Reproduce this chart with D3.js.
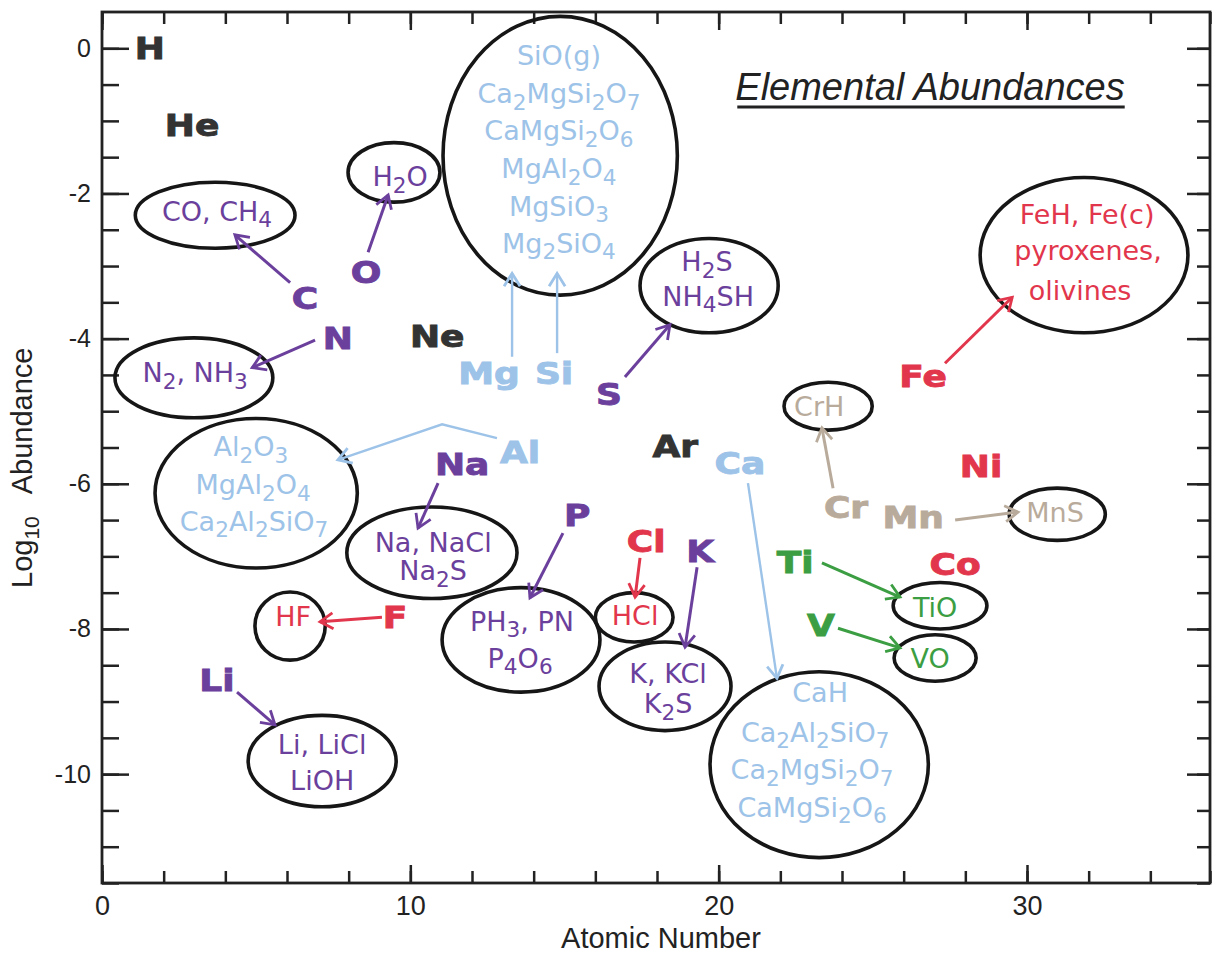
<!DOCTYPE html>
<html><head><meta charset="utf-8">
<script src="https://cdn.jsdelivr.net/npm/d3@7"></script>
<style>body{margin:0;background:#fff}</style>
</head><body><svg id="chart" width="1212" height="954"></svg>
<script>
// ---------------- DATA ----------------
const xDomain = [0, 36];
const yDomain = [-11.5, 0.5];
const xMajorTicks = [0, 10, 20, 30];
const yMajorTicks = [0, -2, -4, -6, -8, -10];
const xLabel = "Atomic Number";
const yLabelMain = "Log";
const yLabelSub = "10";
const yLabelRest = "Abundance";
const chartTitle = "Elemental Abundances";

// element labels: x = atomic-number axis position, y = log10 abundance
const elements = [
  {sym:"H",  x:1.55,  y:0.00,  grp:"noble"},
  {sym:"He", x:2.92,  y:-1.06, grp:"noble"},
  {sym:"Li", x:3.73,  y:-8.70, grp:"volatile"},
  {sym:"C",  x:6.58,  y:-3.44, grp:"volatile"},
  {sym:"N",  x:7.65,  y:-3.99, grp:"volatile"},
  {sym:"O",  x:8.56,  y:-3.08, grp:"volatile"},
  {sym:"F",  x:9.50,  y:-7.83, grp:"metal"},
  {sym:"Ne", x:10.87, y:-3.96, grp:"noble"},
  {sym:"Na", x:11.68, y:-5.73, grp:"volatile"},
  {sym:"Mg", x:12.55, y:-4.47, grp:"silicate"},
  {sym:"Al", x:13.56, y:-5.56, grp:"silicate"},
  {sym:"Si", x:14.66, y:-4.47, grp:"silicate"},
  {sym:"P",  x:15.41, y:-6.43, grp:"volatile"},
  {sym:"S",  x:16.44, y:-4.76, grp:"volatile"},
  {sym:"Cl", x:17.65, y:-6.79, grp:"metal"},
  {sym:"Ar", x:18.59, y:-5.48, grp:"noble"},
  {sym:"K",  x:19.40, y:-6.93, grp:"volatile"},
  {sym:"Ca", x:20.69, y:-5.71, grp:"silicate"},
  {sym:"Ti", x:22.48, y:-7.08, grp:"oxide"},
  {sym:"V",  x:23.32, y:-7.95, grp:"oxide"},
  {sym:"Cr", x:24.13, y:-6.32, grp:"hydride"},
  {sym:"Mn", x:26.31, y:-6.46, grp:"hydride"},
  {sym:"Fe", x:26.63, y:-4.52, grp:"metal"},
  {sym:"Co", x:27.67, y:-7.11, grp:"metal"},
  {sym:"Ni", x:28.51, y:-5.76, grp:"metal"}
];

// condensate groups (ellipses), centre and semi-axes in data units
const condensates = [
  {cx:3.67,  cy:-2.30, rx:2.59, ry:0.455},
  {cx:9.47,  cy:-1.71, rx:1.49, ry:0.41},
  {cx:14.86, cy:-1.48, rx:3.80, ry:1.92},
  {cx:19.69, cy:-3.27, rx:2.24, ry:0.65},
  {cx:31.85, cy:-2.85, rx:3.37, ry:1.07},
  {cx:2.98,  cy:-4.54, rx:2.56, ry:0.55},
  {cx:5.00,  cy:-6.13, rx:3.28, ry:1.03},
  {cx:10.70, cy:-6.95, rx:2.76, ry:0.63},
  {cx:6.10,  cy:-7.96, rx:1.14, ry:0.47},
  {cx:13.59, cy:-8.15, rx:2.56, ry:0.72},
  {cx:17.26, cy:-7.84, rx:1.26, ry:0.34},
  {cx:18.26, cy:-8.79, rx:2.14, ry:0.61},
  {cx:23.26, cy:-9.87, rx:3.54, ry:1.28},
  {cx:7.14,  cy:-9.82, rx:2.40, ry:0.63},
  {cx:23.55, cy:-4.93, rx:1.43, ry:0.33},
  {cx:30.98, cy:-6.42, rx:1.56, ry:0.36},
  {cx:27.18, cy:-7.68, rx:1.52, ry:0.32},
  {cx:27.02, cy:-8.40, rx:1.33, ry:0.32}
];

// condensate species labels (digits become subscripts)
const species = [
  {t:"CO, CH4",     x:3.73,  y:-2.24, grp:"volatile"},
  {t:"H2O",         x:9.67,  y:-1.76, grp:"volatile"},
  {t:"SiO(g)",      x:14.82, y:-0.09, grp:"silicate"},
  {t:"Ca2MgSi2O7",  x:14.82, y:-0.62, grp:"silicate"},
  {t:"CaMgSi2O6",   x:14.82, y:-1.13, grp:"silicate"},
  {t:"MgAl2O4",     x:14.82, y:-1.65, grp:"silicate"},
  {t:"MgSiO3",      x:14.82, y:-2.17, grp:"silicate"},
  {t:"Mg2SiO4",     x:14.82, y:-2.68, grp:"silicate"},
  {t:"H2S",         x:19.62, y:-2.94, grp:"volatile"},
  {t:"NH4SH",       x:19.66, y:-3.41, grp:"volatile"},
  {t:"FeH, Fe(c)",  x:31.95, y:-2.28, grp:"metal"},
  {t:"pyroxenes,",  x:31.98, y:-2.78, grp:"metal"},
  {t:"olivines",    x:31.72, y:-3.33, grp:"metal"},
  {t:"N2, NH3",     x:3.02,  y:-4.47, grp:"volatile"},
  {t:"Al2O3",       x:4.83,  y:-5.49, grp:"silicate"},
  {t:"MgAl2O4",     x:4.90,  y:-6.01, grp:"silicate"},
  {t:"Ca2Al2SiO7",  x:4.93,  y:-6.51, grp:"silicate"},
  {t:"Na, NaCl",    x:10.74, y:-6.80, grp:"volatile"},
  {t:"Na2S",        x:10.74, y:-7.19, grp:"volatile"},
  {t:"HF",          x:6.20,  y:-7.83, grp:"metal"},
  {t:"PH3, PN",     x:13.62, y:-7.89, grp:"volatile"},
  {t:"P4O6",        x:13.56, y:-8.40, grp:"volatile"},
  {t:"HCl",         x:17.29, y:-7.81, grp:"metal"},
  {t:"K, KCl",      x:18.36, y:-8.61, grp:"volatile"},
  {t:"K2S",         x:18.36, y:-9.03, grp:"volatile"},
  {t:"Li, LiCl",    x:7.14,  y:-9.59, grp:"volatile"},
  {t:"LiOH",        x:7.14,  y:-10.08, grp:"volatile"},
  {t:"CaH",         x:23.29, y:-8.87, grp:"silicate"},
  {t:"Ca2Al2SiO7",  x:23.13, y:-9.42, grp:"silicate"},
  {t:"Ca2MgSi2O7",  x:23.03, y:-9.94, grp:"silicate"},
  {t:"CaMgSi2O6",   x:23.03, y:-10.45, grp:"silicate"},
  {t:"CrH",         x:23.26, y:-4.93, grp:"hydride"},
  {t:"MnS",         x:30.91, y:-6.39, grp:"hydride"},
  {t:"TiO",         x:27.02, y:-7.70, grp:"oxide"},
  {t:"VO",          x:26.86, y:-8.40, grp:"oxide"}
];

// arrows from element to its condensates
const arrows = [
  {grp:"volatile", pts:[[6.10,-3.23],[4.31,-2.57]]},
  {grp:"volatile", pts:[[8.63,-2.81],[9.28,-2.02]]},
  {grp:"volatile", pts:[[6.91,-4.02],[4.87,-4.40]]},
  {grp:"silicate", pts:[[13.30,-4.25],[13.30,-3.10]]},
  {grp:"silicate", pts:[[14.76,-4.20],[14.76,-3.10]]},
  {grp:"volatile", pts:[[16.96,-4.53],[18.42,-3.81]]},
  {grp:"silicate", pts:[[12.81,-5.37],[11.03,-5.18],[7.65,-5.67]]},
  {grp:"volatile", pts:[[10.90,-5.99],[10.25,-6.61]]},
  {grp:"volatile", pts:[[14.95,-6.68],[13.88,-7.57]]},
  {grp:"metal",    pts:[[17.45,-7.02],[17.29,-7.56]]},
  {grp:"volatile", pts:[[19.30,-7.15],[18.91,-8.25]]},
  {grp:"silicate", pts:[[20.95,-5.99],[21.89,-8.68]]},
  {grp:"hydride",  pts:[[23.71,-6.06],[23.35,-5.23]]},
  {grp:"hydride",  pts:[[27.67,-6.50],[29.71,-6.39]]},
  {grp:"oxide",    pts:[[23.35,-7.09],[25.88,-7.56]]},
  {grp:"oxide",    pts:[[23.87,-7.99],[25.88,-8.26]]},
  {grp:"metal",    pts:[[9.08,-7.84],[7.07,-7.90]]},
  {grp:"volatile", pts:[[4.38,-8.87],[5.61,-9.32]]},
  {grp:"metal",    pts:[[27.34,-4.34],[29.52,-3.43]]}
];

// ---------------- STYLE / LAYOUT ----------------
const colors = {
  noble:"#333333", volatile:"#6b3f9c", silicate:"#9dc3e8",
  metal:"#e2364c", oxide:"#3c9e42", hydride:"#b9ab9b"
};
const svg = d3.select("#chart");
const x = d3.scaleLinear().domain(xDomain).range([102, 1212]);
const y = d3.scaleLinear().domain(yDomain).range([883, 12]);
const axisColor = "#222";
const tickFont = "Liberation Sans, Arial, Helvetica, sans-serif";
const fmt = d => String(d);

// markers
const defs = svg.append("defs");
Object.entries(colors).forEach(([k,c]) => {
  defs.append("marker").attr("id","arr-"+k)
    .attr("markerUnits","userSpaceOnUse")
    .attr("markerWidth",20).attr("markerHeight",20)
    .attr("refX",15).attr("refY",10).attr("orient","auto")
    .append("path").attr("d","M2,2 L15,10 L2,18")
    .attr("fill","none").attr("stroke",c).attr("stroke-width",2.8);
});

// axes
function styleAxis(g){
  g.select(".domain").remove();
  g.selectAll(".tick line").attr("stroke",axisColor).attr("stroke-width",2.5);
  g.selectAll(".tick text").attr("fill",axisColor).attr("font-family",tickFont);
}
const xMinor = d3.range(0, 37, 2);
const yMinor = d3.range(0, -11.51, -0.5);

svg.append("g").attr("transform",`translate(0,${y(yDomain[0])})`)
  .call(d3.axisBottom(x).tickValues(xMinor).tickSize(-12).tickFormat(""))
  .call(styleAxis);
svg.append("g").attr("transform",`translate(0,${y(yDomain[0])})`)
  .call(d3.axisBottom(x).tickValues(xMajorTicks).tickSize(-18).tickPadding(13).tickFormat(fmt))
  .call(styleAxis).selectAll("text").attr("font-size",27);
svg.append("g").attr("transform",`translate(0,${y(yDomain[1])})`)
  .call(d3.axisTop(x).tickValues(xMinor).tickSize(-12).tickFormat(""))
  .call(styleAxis);
svg.append("g").attr("transform",`translate(0,${y(yDomain[1])})`)
  .call(d3.axisTop(x).tickValues(xMajorTicks).tickSize(-18).tickFormat(""))
  .call(styleAxis);
svg.append("g").attr("transform",`translate(${x(0)},0)`)
  .call(d3.axisLeft(y).tickValues(yMinor).tickSize(-17).tickFormat(""))
  .call(styleAxis);
svg.append("g").attr("transform",`translate(${x(0)},0)`)
  .call(d3.axisLeft(y).tickValues(yMajorTicks).tickSize(-27).tickPadding(11).tickFormat(fmt))
  .call(styleAxis).selectAll("text").attr("font-size",25);
const rightX = x(xDomain[1]) - 2;
svg.append("g").attr("transform",`translate(${rightX},0)`)
  .call(d3.axisRight(y).tickValues(yMinor).tickSize(-13).tickFormat(""))
  .call(styleAxis);
svg.append("g").attr("transform",`translate(${rightX},0)`)
  .call(d3.axisRight(y).tickValues(yMajorTicks).tickSize(-23).tickFormat(""))
  .call(styleAxis);

// frame
svg.append("rect").attr("x",x(0)).attr("y",y(yDomain[1]))
  .attr("width",rightX - x(0)).attr("height",y(yDomain[0]) - y(yDomain[1]))
  .attr("fill","none").attr("stroke",axisColor).attr("stroke-width",2.8);

// axis titles
svg.append("text").attr("x",661).attr("y",948).attr("text-anchor","middle")
  .attr("font-family",tickFont).attr("font-size",29).attr("fill",axisColor).text(xLabel);
const yl = svg.append("text").attr("transform","translate(32,588) rotate(-90)")
  .attr("font-family",tickFont).attr("font-size",29).attr("fill",axisColor);
yl.append("tspan").text(yLabelMain);
yl.append("tspan").attr("font-size",21).attr("dy",7).text(yLabelSub);
yl.append("tspan").attr("dy",-7).attr("dx",22).text(yLabelRest);

// title
const tt = svg.append("text").attr("x",930).attr("y",100).attr("text-anchor","middle")
  .attr("font-family",tickFont).attr("font-style","italic").attr("font-size",38)
  .attr("fill","#222").text(chartTitle);
const tb = tt.node().getBBox();
svg.append("line").attr("x1",tb.x+2).attr("x2",tb.x+tb.width).attr("y1",107).attr("y2",107)
  .attr("stroke","#222").attr("stroke-width",2.8);

// ellipses
svg.append("g").selectAll("ellipse").data(condensates).join("ellipse")
  .attr("cx",d=>x(d.cx)).attr("cy",d=>y(d.cy))
  .attr("rx",d=>x(d.rx)-x(0)).attr("ry",d=>y(0)-y(d.ry))
  .attr("fill","none").attr("stroke","#161616").attr("stroke-width",3.6);

// arrows
const line = d3.line().x(d=>x(d[0])).y(d=>y(d[1]));
svg.append("g").selectAll("path").data(arrows).join("path")
  .attr("d",d=>line(d.pts)).attr("fill","none")
  .attr("stroke",d=>colors[d.grp]).attr("stroke-width",d=>d.grp==="silicate"?2.4:3)
  .attr("marker-end",d=>`url(#arr-${d.grp})`);

// species labels
const spFont = 27;
const spG = svg.append("g").attr("font-family","DejaVu Sans, Verdana, sans-serif")
  .attr("font-size",spFont).attr("text-anchor","middle");
species.forEach(s => {
  const t = spG.append("text").attr("x",x(s.x)).attr("y",y(s.y)+spFont*0.36)
    .attr("fill",colors[s.grp]);
  const parts = s.t.match(/\d+|\D+/g);
  let sub = false;
  parts.forEach(p => {
    const isNum = /^\d+$/.test(p);
    const ts = t.append("tspan").text(p);
    if (isNum) { ts.attr("font-size",spFont*0.8).attr("dy",spFont*0.25); sub = true; }
    else if (sub) { ts.attr("dy",-spFont*0.25); sub = false; }
  });
});

// element labels
const elFont = 30;
svg.append("g").selectAll("text").data(elements).join("text")
  .attr("transform",d=>`translate(${x(d.x)},${y(d.y)+elFont*0.365}) scale(1.2,1)`)
  .attr("text-anchor","middle")
  .attr("font-family","DejaVu Sans, Verdana, sans-serif").attr("font-weight","bold")
  .attr("font-size",elFont).attr("fill",d=>colors[d.grp])
  .attr("stroke",d=>colors[d.grp]).attr("stroke-width",0.9)
  .text(d=>d.sym);
</script></body></html>
